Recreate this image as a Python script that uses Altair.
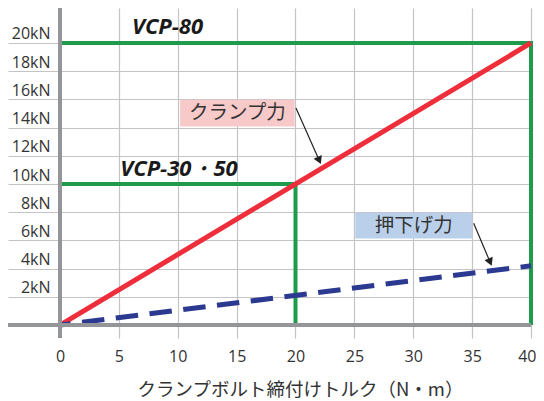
import altair as alt
import pandas as pd

# ---- data ----
x_ticks = [0, 5, 10, 15, 20, 25, 30, 35, 40]
y_ticks = [2, 4, 6, 8, 10, 12, 14, 16, 18, 20]

clamp_x = [0, 40]
clamp_y = [0, 20]
push_x = [0, 40]
push_y = [0, 4.2]
vcp80_x = [0, 40, 40]
vcp80_y = [20, 20, 0]
vcp3050_x = [0, 20, 20]
vcp3050_y = [10, 10, 0]

series_labels = ["VCP-80", "VCP-30・50"]
series_label_x = [9.13, 10.1]
series_label_y = [21.1, 11.05]

box_text = ["クランプ力", "押下げ力"]
box_x1 = [10.2, 25.08]
box_x2 = [19.93, 34.99]
box_y1 = [14.07, 6.13]
box_y2 = [15.97, 7.96]
box_color = ["#f8c9c9", "#bad0ea"]

arrow_x1 = [20.04, 35.13]
arrow_y1 = [15.39, 7.21]
arrow_x2 = [22.02, 36.53]
arrow_y2 = [11.67, 4.46]
arrow_angle = [336, 337]

XDOM = [-4.416, 40]
YDOM = [-0.92, 22.48]
FONT = "Open Sans"
JFONT = "Noto Sans CJK JP"

xs = alt.Scale(domain=XDOM, nice=False, zero=False)
ys = alt.Scale(domain=YDOM, nice=False, zero=False)

XAX = alt.Axis(
    values=x_ticks, grid=True, gridColor="#c3c3c8", gridWidth=1.2,
    ticks=False, domain=False, labelFont=FONT, labelFontSize=16,
    labelColor="#333333", labelPadding=10,
    labelFlush=True, labelFlushOffset=5,
    title="クランプボルト締付けトルク（N・m）", titleFont=JFONT,
    titleFontSize=18.5, titleFontWeight="normal", titleColor="#333333",
    titleX=292, titleAlign="center", titleAnchor="start", titlePadding=16)
YAX = alt.Axis(
    values=y_ticks, grid=True, gridColor="#c3c3c8", gridWidth=1.2,
    ticks=False, domain=False, labelFont=FONT, labelFontSize=16,
    labelColor="#333333", labelAlign="right", labelBaseline="middle",
    labelPadding=-42, labelOffset=-9,
    labelExpr="datum.value + 'kN'", title="")


def X(f):
    return alt.X(f, scale=xs, axis=XAX)


def Y(f):
    return alt.Y(f, scale=ys, axis=YAX)


def line_df(xv, yv):
    return pd.DataFrame({"x": xv, "y": yv, "o": list(range(len(xv)))})


# axis lines
yaxis_rule = alt.Chart(pd.DataFrame({"x": [0]})).mark_rule(
    color="#939598", strokeWidth=4).encode(x=X("x:Q"))
xaxis_rule = alt.Chart(pd.DataFrame({"y": [0]})).mark_rule(
    color="#939598", strokeWidth=4).encode(y=Y("y:Q"))


def mk_line(df, color, width, dash=None, offset=None):
    kw = dict(color=color, strokeWidth=width, strokeCap="butt")
    if dash:
        kw["strokeDash"] = dash
    if offset:
        kw["strokeDashOffset"] = offset
    return alt.Chart(df).mark_line(**kw).encode(
        x=X("x:Q"), y=Y("y:Q"), order="o:O")


g80 = mk_line(line_df(vcp80_x, vcp80_y), "#1f9c4b", 4)
g30 = mk_line(line_df(vcp3050_x, vcp3050_y), "#1f9c4b", 4)
red = mk_line(line_df(clamp_x, clamp_y), "#ee2e3b", 5)
blue = mk_line(line_df(push_x, push_y), "#2b3990", 5, [22.5, 11.5], 11.8)

lab_df = pd.DataFrame({"t": series_labels, "x": series_label_x, "y": series_label_y})
labels = alt.Chart(lab_df).mark_text(
    font=FONT, fontSize=22, fontWeight="bold", fontStyle="italic",
    color="#1a1a1a", align="center", baseline="middle").encode(
    x=X("x:Q"), y=Y("y:Q"), text="t:N")

box_df = pd.DataFrame({"t": box_text, "x1": box_x1, "x2": box_x2, "y1": box_y1,
                       "y2": box_y2, "c": box_color})
box_df["xm"] = (box_df["x1"] + box_df["x2"]) / 2
box_df["ym"] = (box_df["y1"] + box_df["y2"]) / 2
boxes = alt.Chart(box_df).mark_rect().encode(
    x=X("x1:Q"), x2="x2:Q", y=Y("y1:Q"), y2="y2:Q",
    color=alt.Color("c:N", scale=None))
box_txt = alt.Chart(box_df).mark_text(
    font=JFONT, fontSize=19.5, color="#333333", align="center", baseline="middle").encode(
    x=X("xm:Q"), y=Y("ym:Q"), text="t:N")

arr_df = pd.DataFrame({"x1": arrow_x1, "y1": arrow_y1, "x2": arrow_x2, "y2": arrow_y2,
                       "a": arrow_angle})
arr_lines = alt.Chart(arr_df).mark_rule(color="#222222", strokeWidth=1.2).encode(
    x=X("x1:Q"), x2="x2:Q", y=Y("y1:Q"), y2="y2:Q")
arr_heads = alt.Chart(arr_df).mark_point(
    shape="triangle-down", filled=True, color="#222222", size=80, opacity=1).encode(
    x=X("x2:Q"), y=Y("y2:Q"), angle=alt.Angle("a:Q", scale=None))

chart = alt.layer(
    g80, g30, red, blue, yaxis_rule, xaxis_rule,
    labels, boxes, box_txt, arr_lines, arr_heads
).properties(
    width=523, height=330,
    autosize=alt.AutoSizeParams(type="none"),
    padding={"left": 0, "top": 0, "right": 5, "bottom": 62},
).configure(background="white", view=alt.ViewConfig(stroke=None))

chart.save("out.html", embed_options={"renderer": "svg", "actions": False})
